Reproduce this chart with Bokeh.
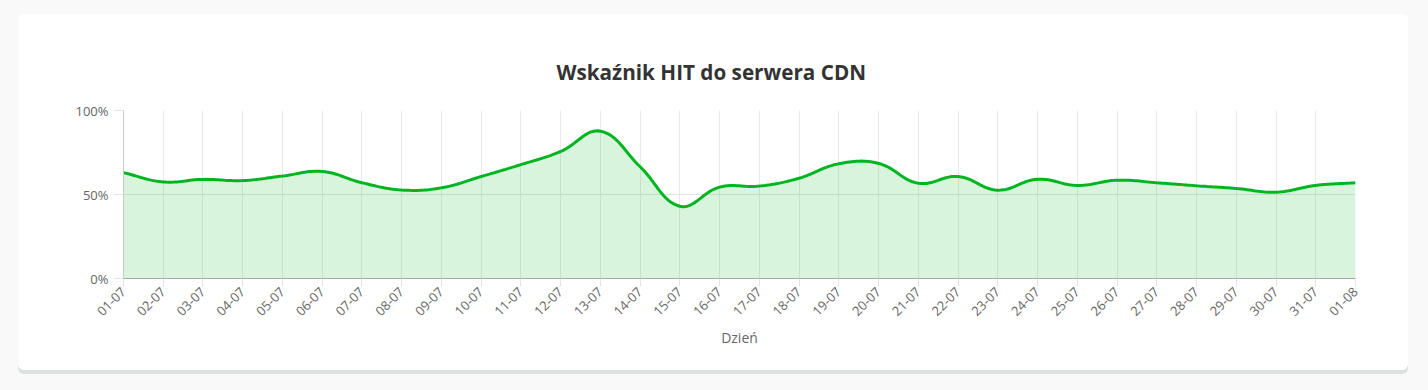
import math
import numpy as np
from bokeh.plotting import figure
from bokeh.layouts import column
from bokeh.models import Range1d, FixedTicker
from bokeh.embed import file_html
from bokeh.resources import INLINE

days = ["01-07", "02-07", "03-07", "04-07", "05-07", "06-07", "07-07", "08-07",
        "09-07", "10-07", "11-07", "12-07", "13-07", "14-07", "15-07", "16-07",
        "17-07", "18-07", "19-07", "20-07", "21-07", "22-07", "23-07", "24-07",
        "25-07", "26-07", "27-07", "28-07", "29-07", "30-07", "31-07", "01-08"]
hit = [63.0, 57.5, 59.0, 58.3, 61.0, 63.7, 57.0, 52.7,
       54.0, 60.7, 67.8, 75.6, 87.7, 66.5, 43.0, 54.4,
       55.0, 59.7, 68.3, 68.5, 56.7, 60.7, 52.6, 59.1,
       55.4, 58.5, 57.0, 55.2, 53.6, 51.4, 55.4, 57.0]
y_ticks = [0, 50, 100]
y_labels = ["0%", "50%", "100%"]
title_text = "Wskaźnik HIT do serwera CDN"
x_title = "Dzień"

LINE = "#00b520"
FONT = "Open Sans"


def spline(xv, yv, sx, sy, tension=0.4, steps=16):
    n = len(xv)
    P = np.column_stack([np.array(xv, float) * sx, np.array(yv, float) * sy])
    prev_cp, next_cp = [None] * n, [None] * n
    for i in range(n):
        p0 = P[max(i - 1, 0)]
        p1 = P[i]
        p2 = P[min(i + 1, n - 1)]
        d01 = math.hypot(*(p1 - p0))
        d12 = math.hypot(*(p2 - p1))
        tot = d01 + d12
        s01 = d01 / tot if tot else 0
        s12 = d12 / tot if tot else 0
        prev_cp[i] = p1 - tension * s01 * (p2 - p0)
        next_cp[i] = p1 + tension * s12 * (p2 - p0)
    out = []
    for i in range(n - 1):
        a, b, c, d = P[i], next_cp[i], prev_cp[i + 1], P[i + 1]
        for k in range(steps):
            u = k / steps
            out.append((1 - u) ** 3 * a + 3 * (1 - u) ** 2 * u * b
                       + 3 * (1 - u) * u ** 2 * c + u ** 3 * d)
    out.append(P[-1])
    out = np.array(out)
    return out[:, 0] / sx, out[:, 1] / sy


xi = list(range(len(days)))
sx_, sy_ = spline(xi, hit, 39.74, 1.68)

p = figure(width=1390, height=357,
           x_range=Range1d(0, len(days) - 1), y_range=Range1d(0, 100),
           output_backend="svg", toolbar_location=None,
           min_border_left=105, min_border_right=53,
           min_border_top=97, min_border_bottom=92,
           background_fill_color="white", border_fill_color="white",
           outline_line_color=None)

p.title.text = title_text
p.title.align = "left"
p.title.text_font = FONT
p.title.text_font_size = "20.7px"
p.title.text_font_style = "bold"
p.title.text_color = "#333333"
p.title.standoff = 49
p.title.offset = 433

p.varea(x=sx_, y1=0, y2=sy_, fill_color="#00b41e", fill_alpha=0.15)
p.line(x=sx_, y=sy_, line_color=LINE, line_width=3)

p.xaxis.ticker = FixedTicker(ticks=xi)
p.xaxis.major_label_overrides = {i: d for i, d in zip(xi, days)}
p.xaxis.major_label_orientation = math.pi / 4
p.xaxis.minor_tick_line_color = None
p.xaxis.major_tick_in = 0
p.xaxis.major_tick_out = 8
p.xaxis.major_tick_line_color = "#e4e4e4"
p.xaxis.axis_line_color = "#a8a8a8"
p.xaxis.major_label_text_font = FONT
p.xaxis.major_label_text_font_size = "13px"
p.xaxis.major_label_text_color = "#666666"
p.xaxis.major_label_standoff = 3
p.xaxis.axis_label = x_title
p.xaxis.axis_label_text_font = FONT
p.xaxis.axis_label_text_font_size = "14px"
p.xaxis.axis_label_text_font_style = "normal"
p.xaxis.axis_label_text_color = "#666666"
p.xaxis.axis_label_standoff = 5

p.yaxis.ticker = FixedTicker(ticks=y_ticks)
p.yaxis.major_label_overrides = {t: l for t, l in zip(y_ticks, y_labels)}
p.yaxis.minor_tick_line_color = None
p.yaxis.major_tick_in = 0
p.yaxis.major_tick_out = 10
p.yaxis.major_tick_line_color = "#e4e4e4"
p.yaxis.axis_line_color = "#c8c8c8"
p.yaxis.major_label_text_font = FONT
p.yaxis.major_label_text_font_size = "13px"
p.yaxis.major_label_text_color = "#666666"
p.yaxis.major_label_standoff = 5

p.xgrid.ticker = FixedTicker(ticks=xi)
p.xgrid.grid_line_color = "#e9e9e9"
p.ygrid.ticker = FixedTicker(ticks=y_ticks)
p.ygrid.grid_line_color = "#e4e4e4"

p.margin = (13, 20, 0, 18)
p.styles = {"border-radius": "6px", "box-shadow": "0 4px 0 #dde0e0",
            "overflow": "hidden"}

page = column(p, width=1428, height=390,
              styles={"background-color": "#f9f9f9"})

open("out.html", "w").write(file_html(page, INLINE))
